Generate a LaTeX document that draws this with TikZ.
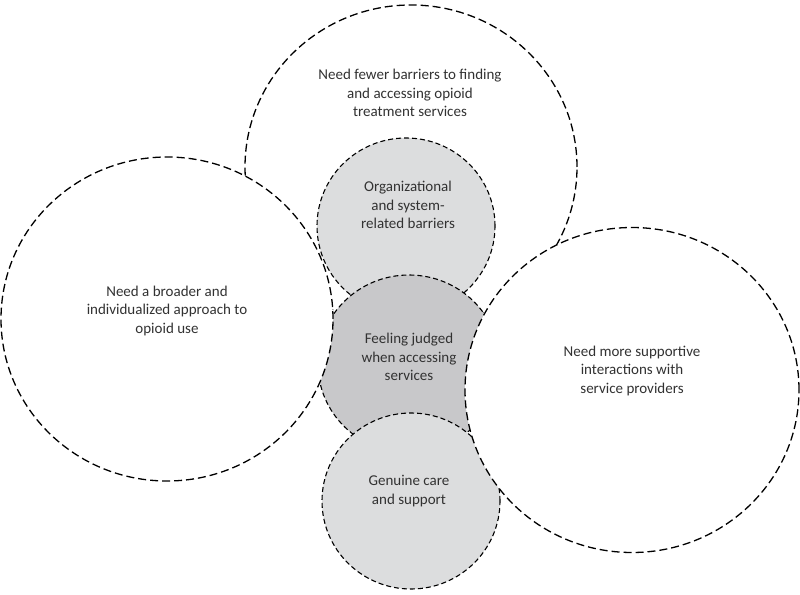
\documentclass[tikz,border=0pt]{standalone}
\usepackage{fontspec}
\setmainfont{Carlito}
\usetikzlibrary{positioning, shapes.geometric}

\definecolor{lightgrey}{RGB}{220,221,222}
\definecolor{midgrey}{RGB}{200,200,202}
\definecolor{textgrey}{RGB}{50,50,50}

\begin{document}
\begin{tikzpicture}[
    x=1pt, y=1pt,
    theme/.style={
        ellipse,
        draw=black,
        fill=white,
        line width=1.3pt,
        dash pattern=on 8pt off 4pt,
        inner sep=0pt,
        minimum width=332pt,
        minimum height=324pt
    },
    subtheme/.style={
        ellipse,
        draw=black,
        fill=lightgrey,
        line width=1.1pt,
        dash pattern=on 5pt off 3pt,
        inner sep=0pt,
        minimum width=178pt,
        minimum height=176pt
    },
    core/.style={
        subtheme,
        fill=midgrey,
        minimum width=182pt,
        minimum height=178pt
    },
    txt/.style={
        align=center,
        text=textgrey,
        inner sep=0pt,
        font=\fontsize{15}{18.5}\selectfont
    }
]
    \useasboundingbox (0,0) rectangle (800,594);

    % Themes and sub-themes (order sets what covers what)
    \node[theme] (barriers) at (411,427) {};
    \node[subtheme] (system) at (406,368) {};
    \node[core] (judged) at (409,230) {};
    \node[subtheme] (care) at (411,93) {};
    \node[theme] (approach) at (167,275) {};
    \node[theme, minimum width=334pt, minimum height=325pt] (providers) at (632,204) {};

    % Labels
    \node[txt] (barriers_t) at (410,501) {Need fewer barriers to finding\\and accessing opioid\\treatment services};
    \node[txt] (system_t) at (408,389) {Organizational\\and system-\\related barriers};
    \node[txt] (judged_t) at (409,237) {Feeling judged\\when accessing\\services};
    \node[txt] (care_t) at (409,103) {Genuine care\\and support};
    \node[txt] (approach_t) at (167,283) {Need a broader and\\individualized approach to\\opioid use};
    \node[txt] (providers_t) at (632,223) {Need more supportive\\interactions with\\service providers};

\end{tikzpicture}
\end{document}
